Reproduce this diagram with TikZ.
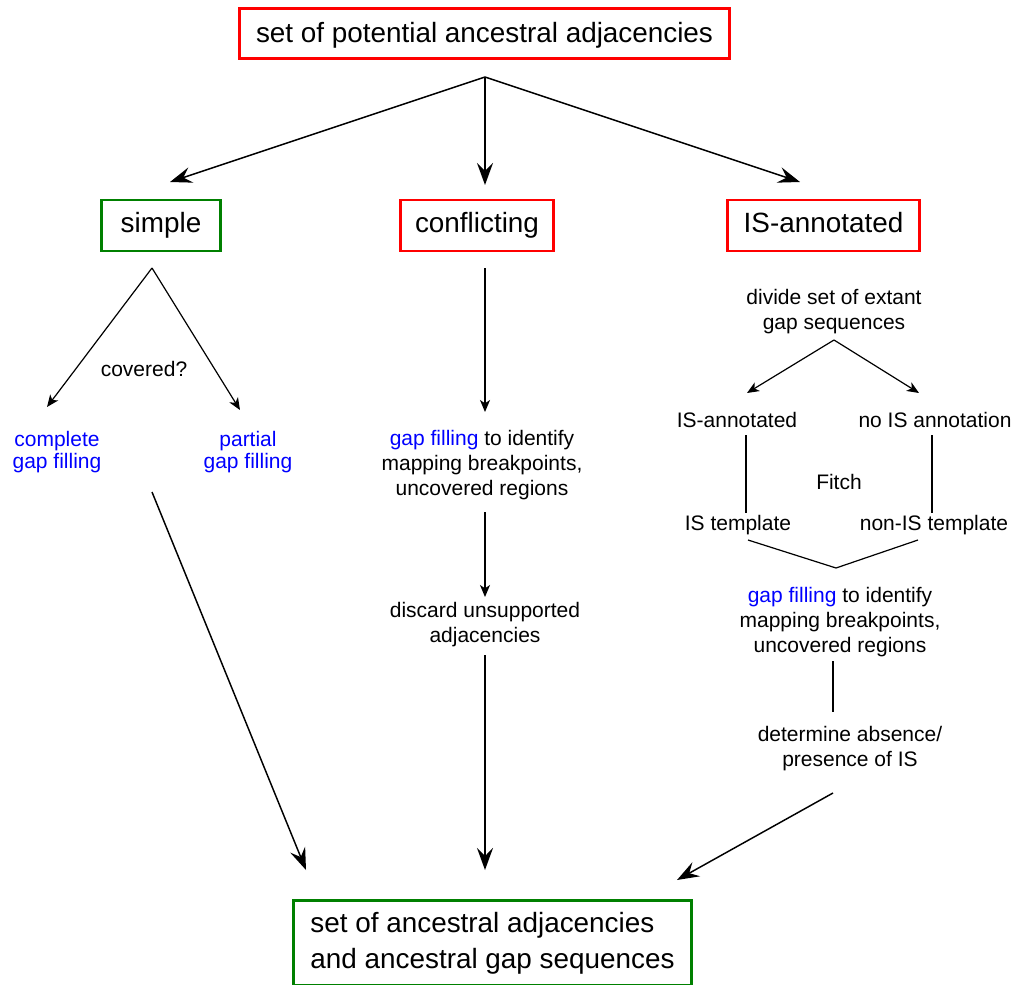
\documentclass[tikz,border=0pt]{standalone}
\usepackage{fontspec}
\setmainfont{Liberation Sans}
\usetikzlibrary{arrows.meta}
\definecolor{boxred}{RGB}{255,0,0}
\definecolor{boxgreen}{RGB}{0,128,0}
\definecolor{gapblue}{RGB}{0,0,255}
\newcommand{\gapfill}{\textcolor{gapblue}{gap filling}}

\begin{document}
\begin{tikzpicture}[x=0.75pt,y=-0.75pt,
  bigbox/.style={draw,line width=2.2pt,inner sep=0pt,minimum height=38.25pt,
    text height=14pt,text depth=3.5pt,font=\fontsize{20.9}{27}\selectfont},
  txt/.style={align=center,inner sep=1pt,yshift=-1.5pt,font=\fontsize{15.75}{18.8}\selectfont},
  bigarrow/.style={-{Stealth[length=16.5pt,width=12pt,inset=6pt]},line width=1.1pt},
  smallarrow/.style={-{Stealth[length=9pt,width=7.5pt,inset=2.5pt]},line width=0.9pt},
  link/.style={line width=0.9pt}]
\useasboundingbox (0,0) rectangle (1015,985);
% boxes
\node[bigbox,draw=boxred,minimum width=367.5pt,minimum height=37.5pt,text height=15pt,text depth=1.8pt] (pot) at (484.5,33.5) {set of potential ancestral adjacencies};
\node[bigbox,draw=boxgreen,minimum width=89.25pt] (simple) at (161,225.5) {simple};
\node[bigbox,draw=boxred,minimum width=114.75pt] (confl) at (477,225.5) {conflicting};
\node[bigbox,draw=boxred,minimum width=144pt] (isann) at (823.5,225.5) {IS-annotated};
\node[bigbox,draw=boxgreen,minimum width=298.5pt,minimum height=63.75pt,text height=,text depth=,yshift=-1pt,align=left] (result) at (492.5,942) {set of ancestral adjacencies\\and ancestral gap sequences};
% fork from the top box
\coordinate (fork) at (485,77);
\coordinate (tipS) at (170,182);
\coordinate (tipC) at (485,185);
\coordinate (tipI) at (800,182);
\draw[bigarrow] (fork) -- (tipS);
\draw[bigarrow] (fork) -- (tipC);
\draw[bigarrow] (fork) -- (tipI);
% simple
\node[txt] (covered) at (144,367) {covered?};
\node[txt,font=\fontsize{15.75}{17}\selectfont] (complete) at (57,450) {\color{gapblue}complete\\\color{gapblue}gap filling};
\node[txt,font=\fontsize{15.75}{17}\selectfont] (partial) at (248,450) {\color{gapblue}partial\\\color{gapblue}gap filling};
\coordinate (sfork) at (152,268);
\coordinate (stipL) at (47,407);
\coordinate (stipR) at (240,410);
\draw[smallarrow] (sfork) -- (stipL);
\draw[smallarrow] (sfork) -- (stipR);
\coordinate (sout) at (152,492);
\coordinate (sin) at (306,870);
\draw[bigarrow] (sout) -- (sin);
% conflicting
\node[txt] (cgap) at (482,463) {\gapfill{} to identify\\mapping breakpoints,\\uncovered regions};
\node[txt] (discard) at (485,623) {discard unsupported\\adjacencies};
\coordinate (c1) at (485,268);
\coordinate (c2) at (485,412);
\coordinate (c3) at (485,512);
\coordinate (c4) at (485,597);
\coordinate (c5) at (485,655);
\coordinate (cin) at (485,870);
\draw[smallarrow] (c1) -- (c2);
\draw[smallarrow] (c3) -- (c4);
\draw[bigarrow] (c5) -- (cin);
% IS-annotated
\node[txt] (divide) at (834,310) {divide set of extant\\gap sequences};
\node[txt] (isa) at (737,418) {IS-annotated};
\node[txt] (nois) at (935,418) {no IS annotation};
\node[txt] (fitch) at (839,480) {Fitch};
\node[txt] (istemp) at (738,523) {IS template};
\node[txt] (nonis) at (934,523) {non-IS template};
\node[txt] (igap) at (840,620) {\gapfill{} to identify\\mapping breakpoints,\\uncovered regions};
\node[txt] (determ) at (850,747) {determine absence/\\presence of IS};
\coordinate (dfork) at (834,340);
\coordinate (dtipL) at (747,393);
\coordinate (dtipR) at (919,393);
\draw[smallarrow] (dfork) -- (dtipL);
\draw[smallarrow] (dfork) -- (dtipR);
\coordinate (lt) at (746,435);
\coordinate (lb) at (746,513);
\coordinate (rt) at (932,435);
\coordinate (rb) at (932,513);
\draw[link] (lt) -- (lb);
\draw[link] (rt) -- (rb);
\coordinate (jl) at (748,540);
\coordinate (join) at (836,568);
\coordinate (jr) at (918,540);
\draw[link] (jl) -- (join) -- (jr);
\coordinate (g1) at (833,661);
\coordinate (g2) at (833,712);
\draw[link] (g1) -- (g2);
\coordinate (iout) at (833,793);
\coordinate (iin) at (677,880);
\draw[bigarrow] (iout) -- (iin);
\end{tikzpicture}
\end{document}
